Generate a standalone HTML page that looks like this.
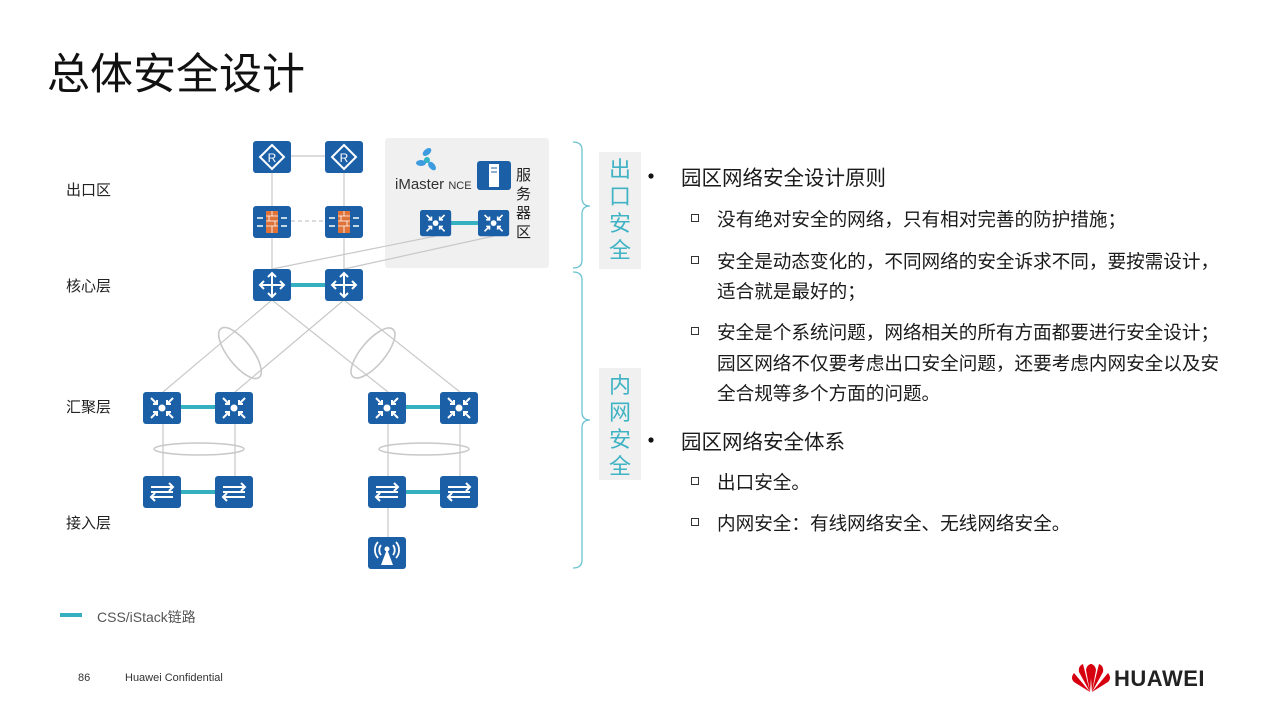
<!DOCTYPE html>
<html><head><meta charset="utf-8">
<style>
body{margin:0;width:1280px;height:720px;background:#fff;position:relative;overflow:hidden;font-family:"Liberation Sans","Noto Sans CJK SC",sans-serif;}
.a{position:absolute;white-space:nowrap;}
.t{font-size:18.6px;color:#1a1a1a;}
.h{font-size:20.5px;color:#1a1a1a;}
.sq{position:absolute;width:6px;height:6px;border:1px solid #333;}
.lab{font-size:15px;color:#222;}
.vt{position:absolute;background:#f0f0f0;color:#3fb3c4;font-size:22px;width:42px;text-align:center;line-height:27px;}
</style></head><body>
<div class="a" style="left:47px;top:40px;font-size:43px;color:#111;">总体安全设计</div>

<svg class="a" style="left:0;top:0" width="1280" height="720">
<defs>
<g id="box"><rect width="38" height="32" rx="3" fill="#1b5fa7"/></g>
<g id="router"><use href="#box"/><path d="M19 4 L31 16 L19 28 L7 16Z" fill="none" stroke="#fff" stroke-width="2"/><text x="19" y="21" font-size="12" fill="#fff" text-anchor="middle" font-family="Liberation Sans">R</text></g>
<g id="fw"><use href="#box"/><rect x="13" y="5" width="12" height="22" fill="#e0733a"/><path d="M13 10H25M13 15H25M13 20H25M19 5V10M16 10V15M22 15V20M19 20V27" stroke="#fff" stroke-width="0.8"/><path d="M4 12h6M4 20h6M28 12h6M28 20h6" stroke="#fff" stroke-width="1.5"/></g>
<g id="core"><use href="#box"/><path d="M19 4V28M7 16H31M15 8l4-4 4 4M15 24l4 4 4-4M11 12l-4 4 4 4M27 12l4 4-4 4" fill="none" stroke="#fff" stroke-width="2"/></g>
<g id="agg"><use href="#box"/><circle cx="19" cy="16" r="3.5" fill="#fff"/><path d="M8 6l6 6M14 8v4h-4M30 6l-6 6M24 8v4h4M8 26l6-6M10 20h4v4M30 26l-6-6M28 20h-4v4" fill="none" stroke="#fff" stroke-width="2"/></g>
<g id="acc"><use href="#box"/><path d="M8 11H30M26 7l4 4-4 4M30 21H8M12 17l-4 4 4 4" fill="none" stroke="#fff" stroke-width="2"/><path d="M8 16H30" stroke="#fff" stroke-width="2"/></g>
<g id="ap"><use href="#box"/><path d="M19 12L13 28H25Z" fill="#fff"/><circle cx="19" cy="12" r="2.5" fill="#fff"/><path d="M13 8a8 8 0 0 0 0 10M25 8a8 8 0 0 1 0 10M10 5a12 12 0 0 0 0 16M28 5a12 12 0 0 1 0 16" fill="none" stroke="#fff" stroke-width="1.8"/></g>
</defs>
<rect x="385" y="138" width="164" height="130" rx="3" fill="#f0f0f0"/>
<g stroke="#c8c8c8" stroke-width="1.2" fill="none">
<line x1="291" y1="156" x2="325" y2="156"/>
<line x1="272" y1="172" x2="272" y2="269"/><line x1="344" y1="172" x2="344" y2="269"/>
<line x1="291" y1="221" x2="325" y2="221" stroke-dasharray="4,3"/>
<line x1="272" y1="269" x2="436" y2="236"/><line x1="344" y1="269" x2="494" y2="236"/>
<line x1="272" y1="300" x2="163" y2="392"/><line x1="272" y1="300" x2="388" y2="392"/>
<line x1="344" y1="300" x2="235" y2="392"/><line x1="344" y1="300" x2="460" y2="392"/>
<line x1="163" y1="423" x2="163" y2="476"/><line x1="235" y1="423" x2="235" y2="476"/>
<line x1="388" y1="423" x2="388" y2="476"/><line x1="460" y1="423" x2="460" y2="476"/>
<line x1="388" y1="507" x2="388" y2="537"/>
<ellipse cx="240" cy="353" rx="12" ry="31" transform="rotate(-38 240 353)" stroke-width="1.6"/>
<ellipse cx="373" cy="353" rx="12" ry="31" transform="rotate(40 373 353)" stroke-width="1.6"/>
<ellipse cx="199" cy="449" rx="45" ry="6" stroke-width="1.5"/>
<ellipse cx="424" cy="449" rx="45" ry="6" stroke-width="1.5"/>
</g>
<g stroke="#35b0c0" stroke-width="4">
<line x1="451" y1="223" x2="478" y2="223"/>
<line x1="291" y1="285" x2="325" y2="285"/>
<line x1="181" y1="407" x2="215" y2="407"/><line x1="406" y1="407" x2="440" y2="407"/>
<line x1="181" y1="492" x2="215" y2="492"/><line x1="406" y1="492" x2="440" y2="492"/>
<line x1="60" y1="615" x2="82" y2="615"/>
</g>
<use href="#router" x="253" y="141"/><use href="#router" x="325" y="141"/>
<use href="#fw" x="253" y="206"/><use href="#fw" x="325" y="206"/>
<use href="#core" x="253" y="269"/><use href="#core" x="325" y="269"/>
<g transform="translate(420,210) scale(0.82)"><use href="#agg"/></g>
<g transform="translate(478,210) scale(0.82)"><use href="#agg"/></g>
<use href="#agg" x="143" y="392"/><use href="#agg" x="215" y="392"/>
<use href="#agg" x="368" y="392"/><use href="#agg" x="440" y="392"/>
<use href="#acc" x="143" y="476"/><use href="#acc" x="215" y="476"/>
<use href="#acc" x="368" y="476"/><use href="#acc" x="440" y="476"/>
<use href="#ap" x="368" y="537"/>
<rect x="477" y="161" width="34" height="29" rx="3" fill="#1b5fa7"/><rect x="489" y="164" width="10" height="23" fill="#fff"/><path d="M491 168h6M491 172h6" stroke="#1b5fa7"/>
<g fill="#3d9be0"><ellipse cx="427" cy="152" rx="5" ry="3" transform="rotate(-40 427 152)"/><ellipse cx="421" cy="163" rx="5" ry="3"/><ellipse cx="432" cy="166" rx="5" ry="3" transform="rotate(50 432 166)"/><circle cx="427" cy="160" r="3" fill="#2fb4c8"/></g>
<text x="395" y="189" font-size="15" fill="#333" font-family="Liberation Sans">iMaster <tspan font-size="11">NCE</tspan></text>
<g stroke="#6cc3cf" stroke-width="1.3" fill="none">
<path d="M573 142 q9 0 9 8 V198 q0 8 8 8 q-8 0 -8 8 V260 q0 8 -9 8"/>
<path d="M573 272 q9 0 9 8 V412 q0 8 8 8 q-8 0 -8 8 V560 q0 8 -9 8"/>
</g>
<circle cx="651" cy="176" r="2.6" fill="#111"/>
<circle cx="651" cy="440" r="2.6" fill="#111"/>
<g fill="#d7000f">
<path d="M1090 692 l-16 -10 q-4 -4 0 -9z"/><path d="M1090 692 l-11 -20 q-1 -6 4 -8z"/><path d="M1090 692 l-4 -22 q1 -6 6 -6z"/>
<path d="M1092 692 l16 -10 q4 -4 0 -9z"/><path d="M1092 692 l11 -20 q1 -6 -4 -8z"/><path d="M1092 692 l4 -22 q-1 -6 -6 -6z"/>
</g>
</svg>

<div class="a lab" style="left:516px;top:166px;font-size:15px;line-height:19px;white-space:normal;width:16px;">服务器区</div>
<div class="a lab" style="left:66px;top:179px;">出口区</div>
<div class="a lab" style="left:66px;top:275px;">核心层</div>
<div class="a lab" style="left:66px;top:396px;">汇聚层</div>
<div class="a lab" style="left:66px;top:512px;">接入层</div>
<div class="a" style="left:97px;top:607px;font-size:14px;color:#555;">CSS/iStack链路</div>
<div class="a" style="left:78px;top:672px;font-size:11px;color:#333;">86</div>
<div class="a" style="left:125px;top:672px;font-size:11px;color:#333;">Huawei Confidential</div>
<div class="a" style="left:1114px;top:666px;font-size:22px;font-weight:bold;color:#222;letter-spacing:0.5px;">HUAWEI</div>

<div class="vt" style="left:599px;top:152px;height:113px;padding-top:4px;">出<br>口<br>安<br>全</div>
<div class="vt" style="left:599px;top:368px;height:108px;padding-top:4px;">内<br>网<br>安<br>全</div>

<div class="a h" style="left:681px;top:161px;">园区网络安全设计原则</div>
<div class="sq" style="left:691px;top:214px;"></div>
<div class="a t" style="left:717px;top:205px;">没有绝对安全的网络，只有相对完善的防护措施；</div>
<div class="sq" style="left:691px;top:256px;"></div>
<div class="a t" style="left:717px;top:247px;">安全是动态变化的，不同网络的安全诉求不同，要按需设计，</div>
<div class="a t" style="left:717px;top:277px;">适合就是最好的；</div>
<div class="sq" style="left:691px;top:327px;"></div>
<div class="a t" style="left:717px;top:318px;">安全是个系统问题，网络相关的所有方面都要进行安全设计；</div>
<div class="a t" style="left:717px;top:349px;">园区网络不仅要考虑出口安全问题，还要考虑内网安全以及安</div>
<div class="a t" style="left:717px;top:379px;">全合规等多个方面的问题。</div>
<div class="a h" style="left:681px;top:425px;">园区网络安全体系</div>
<div class="sq" style="left:691px;top:477px;"></div>
<div class="a t" style="left:717px;top:468px;">出口安全。</div>
<div class="sq" style="left:691px;top:518px;"></div>
<div class="a t" style="left:717px;top:509px;">内网安全：有线网络安全、无线网络安全。</div>
</body></html>
